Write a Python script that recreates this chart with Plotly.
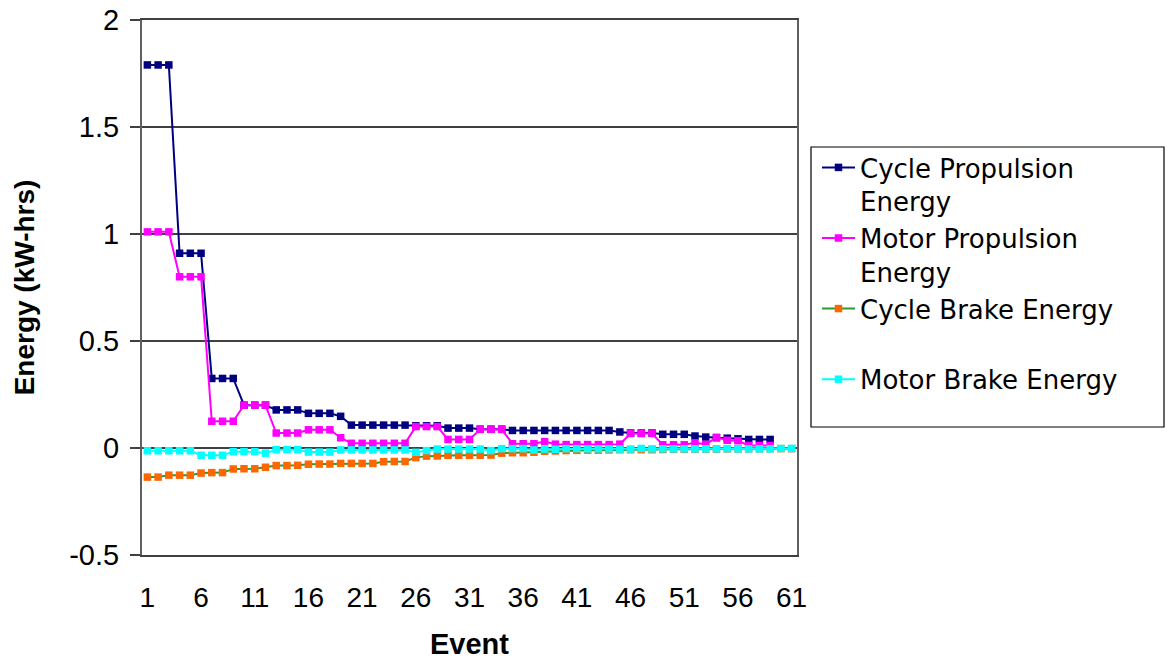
import plotly.graph_objects as go

# ---------------- data ----------------
cycle_propulsion = (
    [1.79] * 3 + [0.91] * 3 + [0.325] * 3 + [0.20] * 3 + [0.178] * 3 + [0.162] * 3 +
    [0.148] + [0.107] * 6 + [0.104] * 3 + [0.093] * 3 + [0.088] * 3 + [0.082] * 10 +
    [0.075] + [0.070] * 3 + [0.064] * 3 + [0.056, 0.051, 0.048, 0.046, 0.043] + [0.040] * 3
)
motor_propulsion = (
    [1.01] * 3 + [0.80] * 3 + [0.125] * 3 + [0.20] * 3 + [0.07] * 3 + [0.085] * 3 +
    [0.048] + [0.022] * 6 + [0.10] * 3 + [0.04] * 3 + [0.087] * 3 + [0.02] * 3 +
    [0.03, 0.018] + [0.016] * 5 + [0.018] + [0.068] * 3 + [0.015] * 3 +
    [0.024, 0.017, 0.05, 0.036, 0.034] + [0.012] * 3
)
cycle_brake = [
    -0.136, -0.136, -0.127, -0.127, -0.127, -0.117, -0.115, -0.115, -0.098, -0.097,
    -0.097, -0.090, -0.082, -0.082, -0.081, -0.076, -0.075, -0.075, -0.072, -0.072,
    -0.072, -0.072, -0.064, -0.063, -0.063, -0.045, -0.038, -0.037, -0.034, -0.034,
    -0.034, -0.034, -0.033, -0.024, -0.022, -0.022, -0.020, -0.015, -0.014, -0.012,
    -0.011, -0.010, -0.010, -0.009, -0.008, -0.008, -0.008, -0.008, -0.007, -0.006,
    -0.006, -0.005, -0.005, -0.005, -0.004, -0.004, -0.004, -0.004, -0.003, -0.003,
    -0.003,
]
motor_brake = (
    [-0.013] * 5 + [-0.034] * 3 + [-0.017] * 3 + [-0.024] + [-0.008] * 3 + [-0.019] * 3 +
    [-0.009] * 7 + [-0.020, -0.012] + [-0.005] * 5 + [-0.012] + [-0.003] * 3 +
    [-0.009, -0.005, -0.006, -0.003, -0.003, -0.004, -0.004, -0.004, -0.005, -0.005,
     -0.002, -0.004] + [-0.004] * 6 + [-0.003] + [-0.004] * 4 + [-0.002] * 2
)
events_long = list(range(1, len(cycle_brake) + 1))
events_short = list(range(1, len(cycle_propulsion) + 1))
x_tick_vals = list(range(1, 62, 5))
y_tick_vals = [-0.5, 0, 0.5, 1, 1.5, 2]

series = [
    ("Cycle Propulsion<br>Energy", events_short, cycle_propulsion, "#000080", "#000080"),
    ("Motor Propulsion<br>Energy", events_short, motor_propulsion, "#FF00FF", "#FF00FF"),
    ("Cycle Brake Energy<br> ", events_long, cycle_brake, "#2E9A2E", "#FF6600"),
    ("Motor Brake Energy<br> ", events_long, motor_brake, "#00FFFF", "#00FFFF"),
]

fig = go.Figure()
for name, xs, ys, lc, mc in series:
    fig.add_trace(go.Scatter(
        x=xs, y=ys, name=name, mode="lines+markers",
        line=dict(color=lc, width=2),
        marker=dict(symbol="square", size=7.5, color=mc, line=dict(width=0)),
    ))

AX = "#404040"
fig.update_layout(
    width=1167, height=660,
    margin=dict(l=142, r=370, t=20, b=105, autoexpand=False),
    paper_bgcolor="white", plot_bgcolor="white",
    font=dict(family="Liberation Sans, Arial", color="black"),
    showlegend=True,
    legend=dict(
        x=(817 - 142) / 655, xanchor="left",
        y=(555 - 144) / 535, yanchor="top",
        font=dict(family="DejaVu Sans", size=26, color="black"),
        bgcolor="rgba(0,0,0,0)", borderwidth=0,
        valign="top", itemwidth=33, tracegroupgap=0,
    ),
    xaxis=dict(
        automargin=False,
        range=[0.5, 61.5], tickmode="array", tickvals=x_tick_vals,
        showgrid=False, zeroline=False, ticks="",
        showline=True, linecolor=AX, linewidth=1.5, mirror=True,
        tickfont=dict(size=28), ticklabelstandoff=17,
        title=dict(text="<b>Event</b>", font=dict(size=29), standoff=22),
    ),
    yaxis=dict(
        automargin=False,
        range=[-0.5, 2], tickmode="array", tickvals=y_tick_vals,
        ticktext=["-0.5", "0", "0.5", "1", "1.5", "2"],
        showgrid=True, gridcolor=AX, gridwidth=1.5, zeroline=False,
        ticks="outside", ticklen=10, tickcolor=AX, tickwidth=1.5,
        showline=True, linecolor="#606060", linewidth=2, mirror=True,
        tickfont=dict(size=29), ticklabelstandoff=5,
        title=dict(text="<b>Energy (kW-hrs)</b>", font=dict(size=28), standoff=26),
    ),
    shapes=[dict(
        type="rect", xref="paper", yref="paper",
        x0=(811 - 142) / 655, x1=(1164 - 142) / 655,
        y0=(555 - 427) / 535, y1=(555 - 147) / 535,
        line=dict(color="black", width=1.2), fillcolor="rgba(0,0,0,0)",
    )],
)

fig.write_html("out.html")
